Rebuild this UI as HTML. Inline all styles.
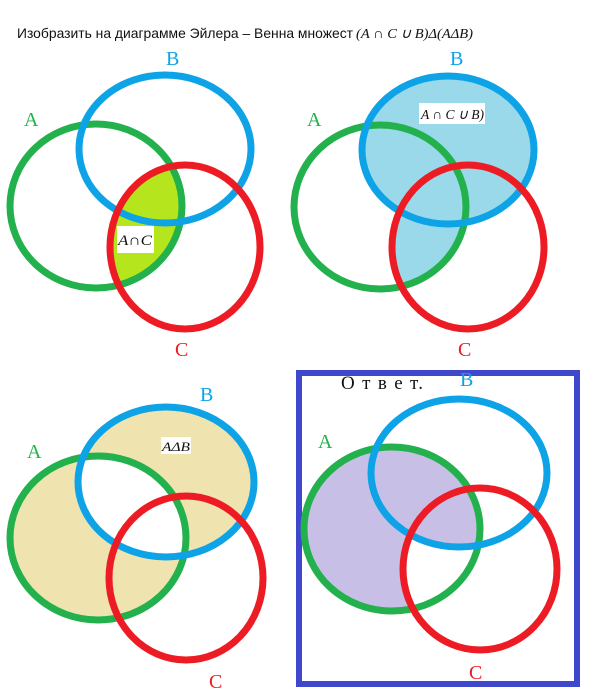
<!DOCTYPE html>
<html><head><meta charset="utf-8"><style>
html,body{margin:0;padding:0;background:#fff;}
svg{display:block}
</style></head><body>
<svg width="600" height="694" viewBox="0 0 600 694" xmlns="http://www.w3.org/2000/svg">
<defs>
<clipPath id="cA1"><ellipse cx="96" cy="206" rx="86" ry="82"/></clipPath>
<clipPath id="cA2"><ellipse cx="380" cy="207" rx="86" ry="82"/></clipPath>
<mask id="m4" maskUnits="userSpaceOnUse" x="0" y="0" width="600" height="694">
<rect x="0" y="0" width="600" height="694" fill="#fff"/>
<ellipse cx="480" cy="569" rx="77" ry="81" fill="#000"/>
<ellipse cx="459" cy="473" rx="88" ry="74" fill="#fff"/>
</mask>
</defs>

<text x="17" y="38" font-family="Liberation Sans, sans-serif" font-size="14" fill="#111" textLength="336" lengthAdjust="spacingAndGlyphs">Изобразить на диаграмме Эйлера – Венна множест</text>
<text x="356" y="38" font-family="Liberation Serif, serif" font-size="14" font-style="italic" fill="#111" textLength="117" lengthAdjust="spacingAndGlyphs">(A ∩ C ∪ B)Δ(AΔB)</text>

<!-- Panel 1 -->
<ellipse cx="185" cy="247" rx="75" ry="82" fill="#b5e61d" clip-path="url(#cA1)"/>
<rect x="117" y="226" width="37" height="27" fill="#fff"/>
<text x="118" y="245" font-family="Liberation Serif, serif" font-size="15" font-style="italic" fill="#111" textLength="34" lengthAdjust="spacingAndGlyphs">A∩C</text>
<ellipse cx="96" cy="206" rx="86" ry="82" fill="none" stroke="#22b14c" stroke-width="7"/>
<ellipse cx="165" cy="149" rx="86" ry="74" fill="none" stroke="#0ea2e6" stroke-width="7"/>
<ellipse cx="185" cy="247" rx="75" ry="82" fill="none" stroke="#ed1c24" stroke-width="7"/>
<text x="24" y="126" font-family="Liberation Serif, serif" font-size="20" fill="#22b14c">A</text>
<text x="166" y="65" font-family="Liberation Serif, serif" font-size="20" fill="#0ea2e6">B</text>
<text x="175" y="356" font-family="Liberation Serif, serif" font-size="20" fill="#ed1c24">C</text>

<!-- Panel 2 -->
<ellipse cx="448" cy="150" rx="86" ry="74" fill="#99d9ea"/>
<ellipse cx="468" cy="247" rx="76" ry="82" fill="#99d9ea" clip-path="url(#cA2)"/>
<rect x="419" y="103" width="66" height="21" fill="#fff"/>
<text x="421" y="119" font-family="Liberation Serif, serif" font-size="14" font-style="italic" fill="#111" textLength="63" lengthAdjust="spacingAndGlyphs">A ∩ C ∪ B)</text>
<ellipse cx="380" cy="207" rx="86" ry="82" fill="none" stroke="#22b14c" stroke-width="7"/>
<ellipse cx="448" cy="150" rx="86" ry="74" fill="none" stroke="#0ea2e6" stroke-width="7"/>
<ellipse cx="468" cy="247" rx="76" ry="82" fill="none" stroke="#ed1c24" stroke-width="7"/>
<text x="307" y="126" font-family="Liberation Serif, serif" font-size="20" fill="#22b14c">A</text>
<text x="450" y="65" font-family="Liberation Serif, serif" font-size="20" fill="#0ea2e6">B</text>
<text x="458" y="356" font-family="Liberation Serif, serif" font-size="20" fill="#ed1c24">C</text>

<!-- Panel 3 -->
<path d="M10,538 a88,82 0 1,0 176,0 a88,82 0 1,0 -176,0 Z M78,482 a88,75 0 1,0 176,0 a88,75 0 1,0 -176,0 Z" fill="#efe4b0" fill-rule="evenodd"/>
<rect x="161" y="437" width="30" height="17" fill="#fff"/>
<text x="162" y="451" font-family="Liberation Serif, serif" font-size="13" font-style="italic" fill="#111" textLength="28" lengthAdjust="spacingAndGlyphs">AΔB</text>
<ellipse cx="98" cy="538" rx="88" ry="82" fill="none" stroke="#22b14c" stroke-width="7"/>
<ellipse cx="166" cy="482" rx="88" ry="75" fill="none" stroke="#0ea2e6" stroke-width="7"/>
<ellipse cx="186" cy="578" rx="77" ry="82" fill="none" stroke="#ed1c24" stroke-width="7"/>
<text x="27" y="458" font-family="Liberation Serif, serif" font-size="20" fill="#22b14c">A</text>
<text x="200" y="401" font-family="Liberation Serif, serif" font-size="20" fill="#0ea2e6">B</text>
<text x="209" y="688" font-family="Liberation Serif, serif" font-size="20" fill="#ed1c24">C</text>

<!-- Panel 4 -->
<rect x="299" y="373" width="278" height="311" fill="none" stroke="#3f48cc" stroke-width="6"/>
<ellipse cx="392" cy="529" rx="88" ry="82" fill="#c8bfe7" mask="url(#m4)"/>
<ellipse cx="392" cy="529" rx="88" ry="82" fill="none" stroke="#22b14c" stroke-width="7"/>
<ellipse cx="459" cy="473" rx="88" ry="74" fill="none" stroke="#0ea2e6" stroke-width="7"/>
<ellipse cx="480" cy="569" rx="77" ry="81" fill="none" stroke="#ed1c24" stroke-width="7"/>
<text x="341" y="389" font-family="Liberation Serif, serif" font-size="19" fill="#111" textLength="82" lengthAdjust="spacing">О т в е т.</text>
<text x="460" y="386" font-family="Liberation Serif, serif" font-size="20" fill="#0ea2e6">B</text>
<text x="318" y="448" font-family="Liberation Serif, serif" font-size="20" fill="#22b14c">A</text>
<text x="469" y="679" font-family="Liberation Serif, serif" font-size="20" fill="#ed1c24">C</text>
</svg>
</body></html>
